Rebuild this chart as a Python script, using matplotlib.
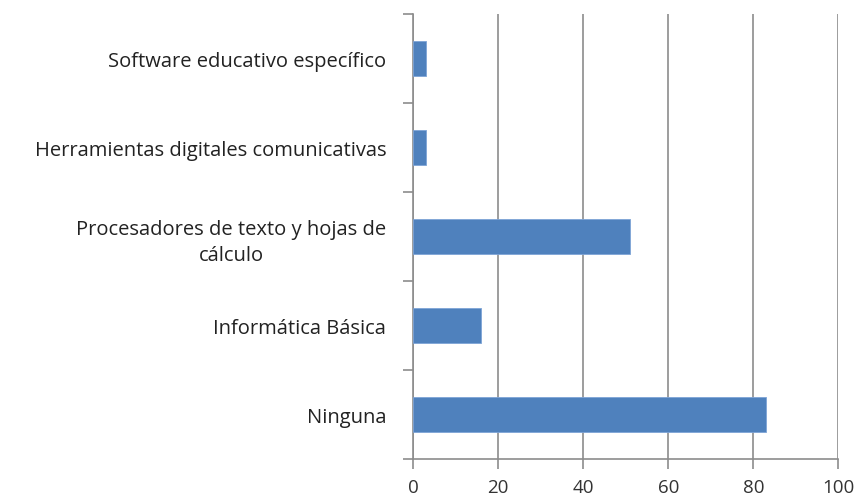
import matplotlib.pyplot as plt

categories = ["Ninguna", "Informática Básica",
              "Procesadores de texto y hojas de\ncálculo",
              "Herramientas digitales comunicativas",
              "Software educativo específico"]
values = [83, 16, 51, 3, 3]
xticks = [0, 20, 40, 60, 80, 100]

plt.rcParams["font.family"] = ["Open Sans", "DejaVu Sans"]

fig = plt.figure(figsize=(8.58, 5.02), dpi=100)
ax = fig.add_axes([0.4817, 0.0837, 0.4953, 0.8863])

pos = range(len(categories))
ax.barh(pos, values, height=0.39, color="#4f81bd", edgecolor="#7ea4d6", linewidth=0.6, zorder=3)

ax.set_xlim(0, 100)
ax.set_ylim(-0.5, len(categories) - 0.5)
ax.set_xticks(xticks)
ax.set_xticklabels([str(t) for t in xticks])
ax.set_yticks([p - 0.5 for p in range(len(categories) + 1)], minor=False)
ax.set_yticklabels([])
ax.set_yticks(list(pos), minor=True)
ax.set_yticklabels(categories, minor=True, ha="right", multialignment="center", linespacing=1.4)

ax.grid(axis="x", color="#8c8c8c", linewidth=1.2, zorder=0)
for s in ["top", "right"]:
    ax.spines[s].set_visible(False)
for s in ["left", "bottom"]:
    ax.spines[s].set_color("#8c8c8c")
    ax.spines[s].set_linewidth(1.2)

ax.tick_params(axis="x", length=7, width=1.2, color="#8c8c8c", labelsize=13.5, labelcolor="#333333", pad=7)
ax.tick_params(axis="y", which="major", length=7, width=1.2, color="#8c8c8c")
ax.tick_params(axis="y", which="minor", length=0, labelsize=14.5, labelcolor="#222222", pad=19.5)

fig.savefig("out.png", dpi=100)
